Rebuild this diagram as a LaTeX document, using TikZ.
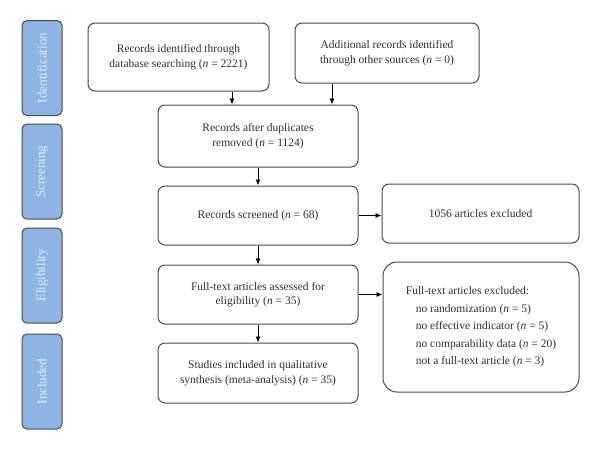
\documentclass[tikz,border=0pt]{standalone}
\usepackage{fontspec}
\setmainfont{Liberation Serif}
\usetikzlibrary{arrows.meta}
\definecolor{sidefill}{HTML}{8DB4E2}
\definecolor{sidetext}{HTML}{E6EEF8}
\definecolor{edge}{HTML}{4A4A4A}
\definecolor{txt}{HTML}{2E2E2E}
\begin{document}
\begin{tikzpicture}[x=1pt,y=-1pt,
  every node/.style={font=\fontsize{11.5}{14.5}\selectfont, text=txt},
  side/.style={draw=edge, line width=1pt, fill=sidefill, rounded corners=5pt,
    minimum width=40pt, minimum height=95pt, inner sep=0pt},
  sidelabel/.style={text=sidetext, rotate=90, font=\fontsize{13}{15}\selectfont},
  box/.style={draw=edge, line width=1pt, rounded corners=7pt, align=center,
    minimum width=200pt, inner sep=0pt},
  conn/.style={draw=black, line width=0.9pt, -{Latex[length=6pt,width=5pt]}}
]
\useasboundingbox (0,0) rectangle (600,451);

% side bars
\node[side] (s1) at (42,68) {};
\node[sidelabel] (l1) at (s1.center) {Identification};
\node[side] (s2) at (42,171.5) {};
\node[sidelabel] (l2) at (s2.center) {Screening};
\node[side] (s3) at (42,275.5) {};
\node[sidelabel] (l3) at (s3.center) {Eligibility};
\node[side] (s4) at (42,381.5) {};
\node[sidelabel] (l4) at (s4.center) {Included};

% boxes
\node[box, minimum width=181pt, minimum height=68pt] (b1) at (178.5,57)
  {Records identified through\\database searching (\textit{n} = 2221)};
\node[box, minimum width=184pt, minimum height=60pt] (b2) at (387,53)
  {Additional records identified\\through other sources (\textit{n} = 0)};
\node[box, minimum height=62pt] (b3) at (258,136)
  {Records after duplicates\\removed (\textit{n} = 1124)};
\node[box, minimum height=59pt] (b4) at (258,215.5)
  {Records screened (\textit{n} = 68)};
\node[box, minimum width=197pt, minimum height=59pt] (b5) at (480.5,213.5)
  {1056 articles excluded};
\node[box, minimum height=59pt] (b6) at (258,294.5)
  {Full-text articles assessed for\\eligibility (\textit{n} = 35)};
\node[box, minimum height=60pt] (b7) at (258,373)
  {Studies included in qualitative\\synthesis (meta-analysis) (\textit{n} = 35)};
\node[box, minimum width=196pt, minimum height=130pt, rounded corners=14pt,
  align=left, font=\fontsize{11.5}{17.5}\selectfont] (b8) at (481,327)
  {Full-text articles excluded:\\
   \hspace*{10pt}no randomization (\textit{n} = 5)\\
   \hspace*{10pt}no effective indicator (\textit{n} = 5)\\
   \hspace*{10pt}no comparability data (\textit{n} = 20)\\
   \hspace*{10pt}not a full-text article (\textit{n} = 3)};

% connectors
\draw[conn] (b1.south -| 232,0) -- (b3.north -| 232,0);
\draw[conn] (b2.south -| 332,0) -- (b3.north -| 332,0);
\draw[conn] (b3) -- (b4);
\draw[conn] (b4.east) -- (b4.east -| b5.west);
\draw[conn] (b4) -- (b6);
\draw[conn] (b6.east) -- (b6.east -| b8.west);
\draw[conn] (b6) -- (b7);
\end{tikzpicture}
\end{document}
